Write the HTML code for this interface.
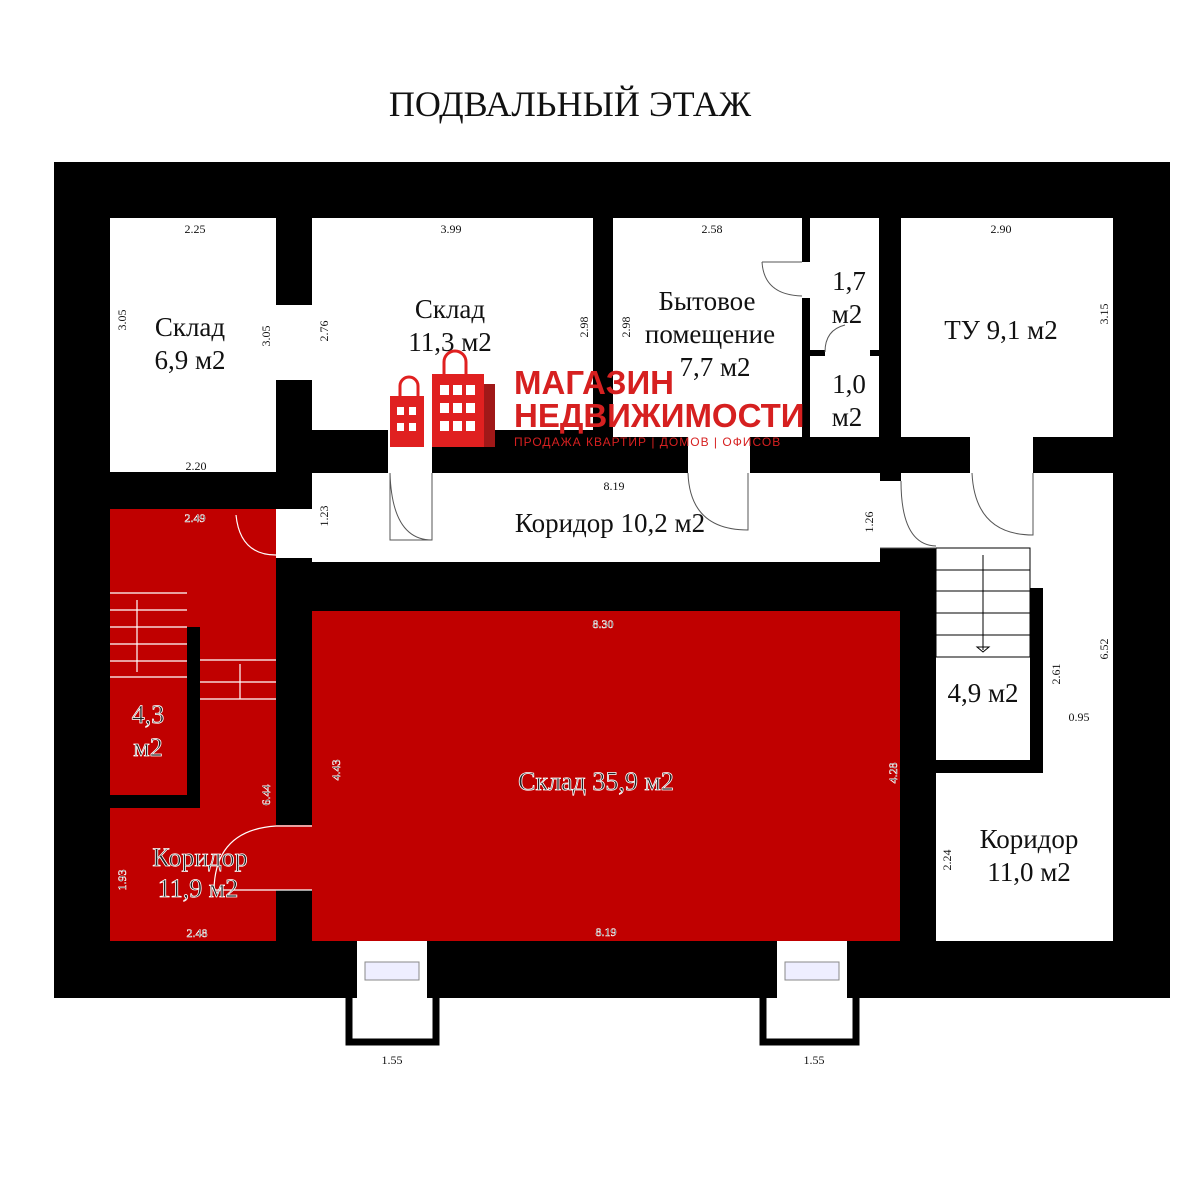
<!DOCTYPE html>
<html><head><meta charset="utf-8"><style>
html,body{margin:0;padding:0;background:#fff;width:1200px;height:1200px;overflow:hidden}
svg{display:block}
text{font-family:"Liberation Serif","DejaVu Serif",serif}
</style></head><body>
<svg width="1200" height="1200" viewBox="0 0 1200 1200" xmlns="http://www.w3.org/2000/svg">
<rect width="1200" height="1200" fill="#fff"/>
<text x="570" y="116" font-size="36" text-anchor="middle" fill="#111">ПОДВАЛЬНЫЙ ЭТАЖ</text>
<rect x="54" y="162" width="1116" height="836" fill="#000"/>
<rect x="110" y="218" width="166" height="254" fill="#fff"/>
<rect x="276" y="305" width="36" height="75" fill="#fff"/>
<rect x="312" y="218" width="281" height="212" fill="#fff"/>
<rect x="613" y="218" width="189" height="219" fill="#fff"/>
<rect x="810" y="218" width="69" height="132" fill="#fff"/>
<rect x="810" y="356" width="69" height="81" fill="#fff"/>
<rect x="825" y="348" width="45" height="10" fill="#fff"/>
<rect x="802" y="262" width="8" height="36" fill="#fff"/>
<rect x="901" y="218" width="212" height="219" fill="#fff"/>
<rect x="312" y="473" width="568" height="89" fill="#fff"/>
<rect x="880" y="481" width="21" height="67" fill="#fff"/>
<rect x="901" y="473" width="212" height="75" fill="#fff"/>
<rect x="970" y="437" width="63" height="36" fill="#fff"/>
<rect x="936" y="548" width="177" height="393" fill="#fff"/>
<rect x="1030" y="588" width="13" height="185" fill="#000"/>
<rect x="936" y="760" width="107" height="13" fill="#000"/>
<rect x="388" y="430" width="44" height="43" fill="#fff"/>
<rect x="688" y="430" width="62" height="43" fill="#fff"/>
<rect x="110" y="509" width="166" height="432" fill="#c00000"/>
<rect x="187" y="627" width="13" height="181" fill="#000"/>
<rect x="110" y="795" width="90" height="13" fill="#000"/>
<rect x="276" y="509" width="36" height="49" fill="#fff"/>
<rect x="276" y="825" width="36" height="65" fill="#c00000"/>
<rect x="312" y="611" width="588" height="330" fill="#c00000"/>
<g stroke="#fff" stroke-width="1.2" fill="none">
<path d="M110 593H187M110 610H187M110 627H187M110 644H187M110 661H187M110 677H187"/>
<path d="M200 660H276M200 682H276M200 699H276M137 600V672M240 664V699"/>
<path d="M236 515 Q240 555 276 555"/>
<path d="M276 826 Q215 830 214 890 H276M276 826H312M276 890H312"/>
</g>
<g stroke="#000" stroke-width="1" fill="none">
<rect x="936" y="548" width="94" height="109" fill="#fff"/>
<path d="M936 570H1030M936 591H1030M936 613H1030M936 635H1030M983 555V650M977 647H989L983 652Z"/>
<path d="M390 473V540H432V473M390 473Q392 540 432 540" stroke="#555"/>
<path d="M688 473Q690 530 748 530V473" stroke="#555"/>
<path d="M901 481Q901 545 936 546M880 548H936" stroke="#555"/>
<path d="M972 473Q975 535 1033 535V473" stroke="#555"/>
<path d="M762 262Q764 295 802 296M762 262H802" stroke="#555"/>
<path d="M825 352Q825 330 845 325" stroke="#555"/>
</g>
<rect x="357" y="941" width="70" height="57" fill="#fff"/>
<rect x="365" y="962" width="54" height="18" fill="#eef" stroke="#888"/>
<rect x="777" y="941" width="70" height="57" fill="#fff"/>
<rect x="785" y="962" width="54" height="18" fill="#eef" stroke="#888"/>
<path d="M349 998V1042H436V998" stroke="#000" stroke-width="7" fill="none"/>
<path d="M763 998V1042H856V998" stroke="#000" stroke-width="7" fill="none"/>
<g font-size="27" text-anchor="middle" fill="#111">
<text x="190" y="336">Склад</text><text x="190" y="369">6,9 м2</text>
<text x="450" y="318">Склад</text><text x="450" y="351">11,3 м2</text>
<text x="707" y="310">Бытовое</text><text x="710" y="343">помещение</text><text x="715" y="376">7,7 м2</text>
<text x="849" y="290">1,7</text><text x="847" y="323">м2</text>
<text x="849" y="393">1,0</text><text x="847" y="426">м2</text>
<text x="1001" y="339">ТУ 9,1 м2</text>
<text x="610" y="532">Коридор 10,2 м2</text>
<text x="983" y="702">4,9 м2</text>
<text x="1029" y="848">Коридор</text><text x="1029" y="881">11,0 м2</text>
</g>
<g font-size="26" text-anchor="middle" fill="#222" stroke="#fff" stroke-width="0.8">
<text x="596" y="790">Склад 35,9 м2</text>
<text x="148" y="723">4,3</text><text x="148" y="756">м2</text>
<text x="200" y="866">Коридор</text><text x="198" y="897">11,9 м2</text>
</g>
<g font-size="12" text-anchor="middle" fill="#111">
<text x="195" y="233">2.25</text><text x="451" y="233">3.99</text><text x="712" y="233">2.58</text><text x="1001" y="233">2.90</text>
<text x="196" y="470">2.20</text><text x="614" y="490">8.19</text>
<text x="392" y="1064">1.55</text><text x="814" y="1064">1.55</text>
<text x="1079" y="721">0.95</text>
<text transform="translate(126,320) rotate(-90)">3.05</text>
<text transform="translate(270,336) rotate(-90)">3.05</text>
<text transform="translate(328,331) rotate(-90)">2.76</text>
<text transform="translate(588,327) rotate(-90)">2.98</text>
<text transform="translate(630,327) rotate(-90)">2.98</text>
<text transform="translate(1108,314) rotate(-90)">3.15</text>
<text transform="translate(328,516) rotate(-90)">1.23</text>
<text transform="translate(873,522) rotate(-90)">1.26</text>
<text transform="translate(1060,674) rotate(-90)">2.61</text>
<text transform="translate(1108,649) rotate(-90)">6.52</text>
<text transform="translate(951,860) rotate(-90)">2.24</text>
</g>
<g font-size="12" text-anchor="middle" fill="#222" stroke="#fff" stroke-width="0.5">
<text x="195" y="522">2.49</text><text x="197" y="937">2.48</text><text x="603" y="628">8.30</text><text x="606" y="936">8.19</text>
<text transform="translate(340,770) rotate(-90)">4.43</text>
<text transform="translate(270,795) rotate(-90)">6.44</text>
<text transform="translate(126,880) rotate(-90)">1.93</text>
<text transform="translate(897,773) rotate(-90)">4.28</text>
</g>
<g fill="#e02020">
<rect x="390" y="396" width="34" height="51"/>
<rect x="432" y="374" width="52" height="73"/>
<rect x="484" y="384" width="11" height="63" fill="#a01818"/>
<path d="M400 396v-10a9 9 0 0 1 18 0v10M444 374v-12a11 11 0 0 1 22 0v12" stroke="#e02020" stroke-width="3" fill="none"/>
</g>
<g fill="#fff">
<rect x="397" y="407" width="7" height="8"/><rect x="409" y="407" width="7" height="8"/>
<rect x="397" y="423" width="7" height="8"/><rect x="409" y="423" width="7" height="8"/>
<rect x="440" y="385" width="9" height="10"/><rect x="453" y="385" width="9" height="10"/><rect x="466" y="385" width="9" height="10"/>
<rect x="440" y="403" width="9" height="10"/><rect x="453" y="403" width="9" height="10"/><rect x="466" y="403" width="9" height="10"/>
<rect x="440" y="421" width="9" height="10"/><rect x="453" y="421" width="9" height="10"/><rect x="466" y="421" width="9" height="10"/>
</g>
<g fill="#d62020" font-weight="bold">
<text x="514" y="394" font-size="33" style="font-family:'Liberation Sans',sans-serif">МАГАЗИН</text>
<text x="514" y="427" font-size="33" style="font-family:'Liberation Sans',sans-serif">НЕДВИЖИМОСТИ</text>
<text x="514" y="446" font-size="12" font-weight="normal" style="font-family:'Liberation Sans',sans-serif" letter-spacing="1">ПРОДАЖА КВАРТИР | ДОМОВ | ОФИСОВ</text>
</g>
</svg>
</body></html>
